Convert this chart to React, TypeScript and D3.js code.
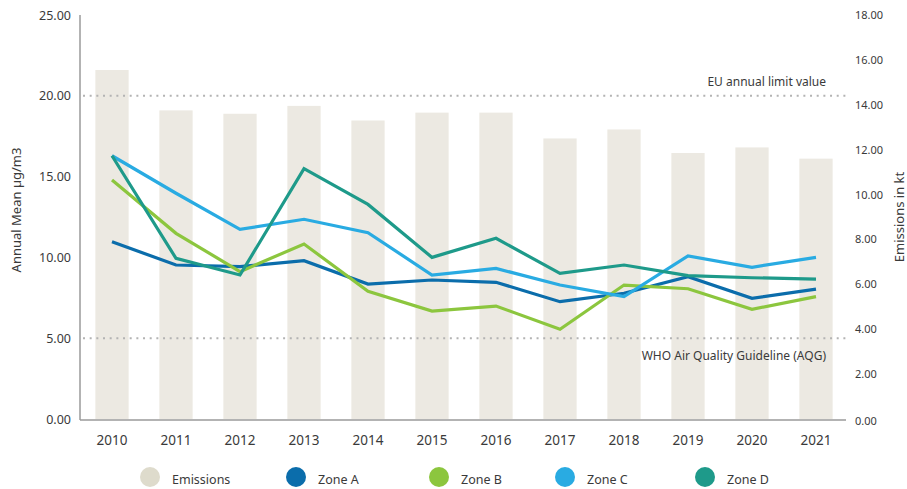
import React from "react";
import * as d3 from "d3";

const years = ["2010","2011","2012","2013","2014","2015","2016","2017","2018","2019","2020","2021"];
const emissions = [15.55, 13.75, 13.6, 13.95, 13.3, 13.65, 13.65, 12.5, 12.9, 11.85, 12.1, 11.6];
const zoneA = [10.97, 9.53, 9.43, 9.8, 8.35, 8.6, 8.46, 7.26, 7.78, 8.81, 7.47, 8.04];
const zoneB = [14.79, 11.49, 9.12, 10.83, 7.9, 6.68, 6.99, 5.55, 8.29, 8.06, 6.79, 7.57];
const zoneC = [16.29, 13.97, 11.74, 12.36, 11.53, 8.91, 9.32, 8.29, 7.57, 10.09, 9.39, 10.0];
const zoneD = [16.29, 9.94, 8.91, 15.49, 13.28, 10.0, 11.18, 9.01, 9.53, 8.87, 8.74, 8.66];
const leftTicks = [0, 5, 10, 15, 20, 25];
const rightTicks = [0, 2, 4, 6, 8, 10, 12, 14, 16, 18];
const euLimit = 20;
const whoGuideline = 5;

const series = [
  { name: "Zone A", values: zoneA, color: "#0b6dab" },
  { name: "Zone B", values: zoneB, color: "#8cc63e" },
  { name: "Zone C", values: zoneC, color: "#29abe2" },
  { name: "Zone D", values: zoneD, color: "#1e9a8a" },
];
const legendItems = [
  { name: "Emissions", color: "#dedbcc" },
  ...series.map((s) => ({ name: s.name, color: s.color })),
];
const legendX = [150, 296, 439, 565, 705];

const W = 907, H = 489;
const font = "'Noto Sans', sans-serif";
const textColor = "#3a3a3a";

export default function App() {
  const x = d3.scaleBand<string>().domain(years).range([80, 848]).paddingInner(0.48).paddingOuter(0.24);
  const yL = d3.scaleLinear().domain([0, 25]).range([419, 15]);
  const yR = d3.scaleLinear().domain([0, 18]).range([419, 15]);
  const cx = (y: string) => (x(y) as number) + x.bandwidth() / 2;
  const line = d3.line<number>().x((_, i) => cx(years[i])).y((v) => yL(v));

  return (
    <div style={{ position: "absolute", left: 0, top: 0 }}>
      <svg width={W} height={H} style={{ display: "block", fontFamily: font }}>
        <rect width={W} height={H} fill="#fff" />
        {emissions.map((v, i) => (
          <rect key={i} x={x(years[i])} y={yR(v)} width={x.bandwidth()} height={yR(0) - yR(v)} fill="#ece9e2" />
        ))}
        {[euLimit, whoGuideline].map((v) => (
          <line key={v} x1={83} x2={848} y1={yL(v)} y2={yL(v)} stroke="#b3b3b3" strokeWidth={2} strokeDasharray="2 4.67" />
        ))}
        <text x={826} y={yL(euLimit) - 10} textAnchor="end" fontSize={12} fill={textColor}>EU annual limit value</text>
        <text x={826} y={yL(whoGuideline) + 22} textAnchor="end" fontSize={12} fill={textColor}>WHO Air Quality Guideline (AQG)</text>
        {series.map((s) => (
          <path key={s.name} d={line(s.values) || ""} fill="none" stroke={s.color} strokeWidth={3.2} strokeLinejoin="miter" />
        ))}
        <line x1={80} x2={80} y1={15} y2={420} stroke="#9a9a9a" strokeWidth={1.5} />
        <line x1={80} x2={846} y1={420} y2={420} stroke="#9a9a9a" strokeWidth={1.5} />
        {leftTicks.map((t) => (
          <text key={t} x={71} y={yL(t) + 4.5} textAnchor="end" fontSize={12.5} fill={textColor}>{t.toFixed(2)}</text>
        ))}
        {rightTicks.map((t) => (
          <text key={t} x={855} y={yR(t) + 4 + (t === 0 ? 2 : 0)} textAnchor="start" fontSize={11} fill={textColor}>{t.toFixed(2)}</text>
        ))}
        {years.map((y) => (
          <text key={y} x={cx(y)} y={445} textAnchor="middle" fontSize={13.5} fill={textColor}>{y}</text>
        ))}
        <text transform={`translate(21,${210}) rotate(-90)`} textAnchor="middle" fontSize={13} fill={textColor}>Annual Mean µg/m3</text>
        <text transform={`translate(904,${217}) rotate(-90)`} textAnchor="middle" fontSize={13} fill={textColor}>Emissions in kt</text>
        {legendItems.map((it, i) => (
          <g key={it.name}>
            <circle cx={legendX[i]} cy={477} r={10} fill={it.color} />
            <text x={legendX[i] + 22} y={484} fontSize={12.5} fill={textColor}>{it.name}</text>
          </g>
        ))}
      </svg>
    </div>
  );
}
